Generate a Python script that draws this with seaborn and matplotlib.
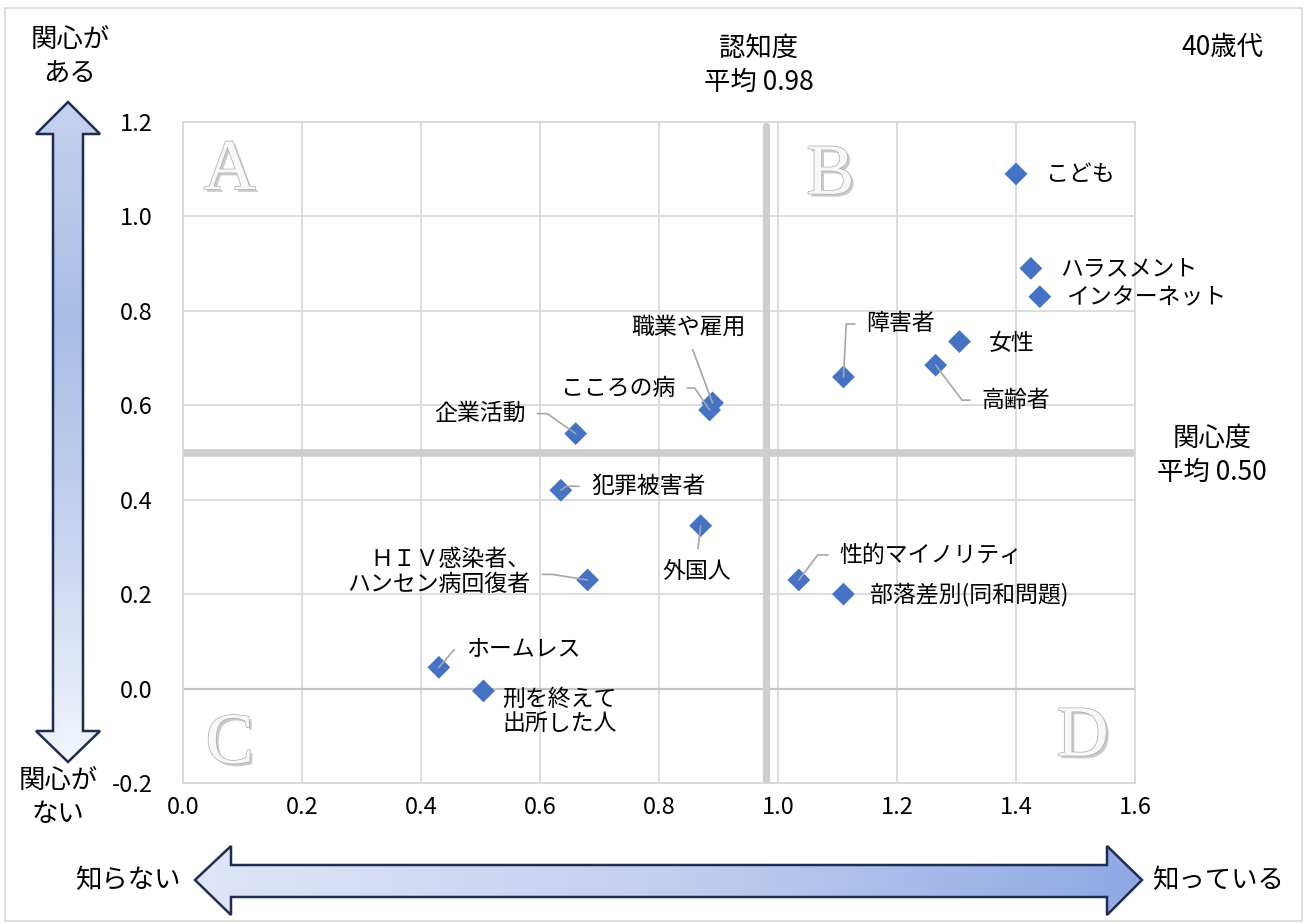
import numpy as np
import pandas as pd
import matplotlib
matplotlib.use("Agg")
import matplotlib.pyplot as plt
import matplotlib.patheffects as pe
from matplotlib.patches import Polygon, Rectangle
from matplotlib.colors import LinearSegmentedColormap
from matplotlib import font_manager
import seaborn as sns

# ---- data -------------------------------------------------------------
issues = [
    "こども", "ハラスメント", "インターネット", "女性", "高齢者", "障害者",
    "職業や雇用", "こころの病", "企業活動", "犯罪被害者", "外国人",
    "ＨＩＶ感染者、\nハンセン病回復者", "性的マイノリティ", "部落差別(同和問題)",
    "ホームレス", "刑を終えて\n出所した人",
]
awareness = [1.40, 1.425, 1.44, 1.305, 1.265, 1.11,
             0.89, 0.885, 0.66, 0.635, 0.87,
             0.68, 1.035, 1.11, 0.43, 0.505]
interest = [1.09, 0.89, 0.83, 0.735, 0.685, 0.66,
            0.605, 0.59, 0.54, 0.42, 0.345,
            0.23, 0.23, 0.20, 0.045, -0.005]
awareness_mean = 0.98
interest_mean = 0.50
x_ticks = [0.0, 0.2, 0.4, 0.6, 0.8, 1.0, 1.2, 1.4, 1.6]
y_ticks = [-0.2, 0.0, 0.2, 0.4, 0.6, 0.8, 1.0, 1.2]
quadrants = ["A", "B", "C", "D"]

df = pd.DataFrame({"課題": issues, "認知度": awareness, "関心度": interest})

# ---- style ------------------------------------------------------------
sns.set_theme(style="white")
plt.rcParams["font.family"] = ["Noto Sans CJK JP", "DejaVu Sans"]
plt.rcParams["text.color"] = "black"

# narrow monospaced digits for the numeric texts, if available
installed = {f.name for f in font_manager.fontManager.ttflist}
num_family = ["Noto Sans Mono CJK JP", "Noto Sans CJK JP"] if "Noto Sans Mono CJK JP" in installed \
    else ["Noto Sans CJK JP", "DejaVu Sans"]

W, H = 1307, 924
fig = plt.figure(figsize=(W / 100, H / 100), dpi=100)
fig.patch.set_facecolor("white")

# pixel-space layer for frame, arrows and side captions
bg = fig.add_axes([0, 0, 1, 1], zorder=0)
bg.axis("off")

ax = fig.add_axes([183 / W, 1 - 783 / H, 952 / W, 661 / H], zorder=1)

# ---- main scatter -----------------------------------------------------
ax.set_axisbelow(True)
ax.grid(True, color="#d9d9d9", lw=1.3)
ax.axhline(0, color="#c4c4c4", lw=1.6, zorder=0.8)
ax.axvline(awareness_mean, ymax=0.994, color="#d0cece", lw=5.2, zorder=1)
ax.axhline(interest_mean, color="#d0cece", lw=5.5, zorder=1)

sns.scatterplot(data=df, x="認知度", y="関心度", marker="D", s=135,
                color="#4472c4", edgecolor="none", legend=False, ax=ax, zorder=3)

ax.set_xlim(x_ticks[0], x_ticks[-1])
ax.set_ylim(y_ticks[0], y_ticks[-1])
ax.set_xticks(x_ticks)
ax.set_yticks(y_ticks)
ax.set_xticklabels([f"{v:.1f}" for v in x_ticks], family=num_family)
ax.set_yticklabels([f"{v:.1f}" for v in y_ticks], family=num_family)
ax.set_xlabel("")
ax.set_ylabel("")
ax.tick_params(axis="both", length=0, labelsize=17, colors="black")
ax.tick_params(axis="y", pad=22)
ax.tick_params(axis="x", pad=9)
for sp in ax.spines.values():
    sp.set_color("#d9d9d9")
    sp.set_linewidth(1.3)

# quadrant letters
letter_pos = [(0.049, 0.925), (0.680, 0.918), (0.049, 0.057), (0.945, 0.068)]
for q, (qx, qy) in zip(quadrants, letter_pos):
    ax.text(qx, qy, q, transform=ax.transAxes, ha="center", va="center",
            family="Liberation Serif", fontsize=52, color="#f8f8f8", zorder=2,
            path_effects=[pe.SimplePatchShadow(offset=(2, -2), shadow_rgbFace="#bdbdbd", alpha=0.8),
                          pe.Stroke(linewidth=1.1, foreground="#b0b0b0"), pe.Normal()])

# point labels: offset (pixels), alignment, leader line
label_style = {
    "こども": ((30, -1), "left", None),
    "ハラスメント": ((29, 0), "left", None),
    "インターネット": ((26, -1), "left", None),
    "女性": ((29, -2), "left", None),
    "高齢者": ((46, -35), "left", ((0, 0.5), "angle,angleA=0,angleB=-53,rad=0")),
    "障害者": ((23, 53), "left", ((0, 0.5), "angle,angleA=0,angleB=87,rad=0")),
    "職業や雇用": ((-24, 76), "center", ((0.5, 0), "arc3,rad=0")),
    "こころの病": ((-34, 22), "right", ((1, 0.5), "angle,angleA=0,angleB=124,rad=0")),
    "企業活動": ((-50, 20), "right", ((1, 0.5), "angle,angleA=0,angleB=145,rad=0")),
    "犯罪被害者": ((30, 4), "left", ((0, 0.5), "angle,angleA=0,angleB=35,rad=0")),
    "外国人": ((-4, -46), "center", ((0.5, 1), "arc3,rad=0")),
    "ＨＩＶ感染者、\nハンセン病回復者": ((-57, 8), "right", ((1, 0.45), "angle,angleA=0,angleB=171,rad=0")),
    "性的マイノリティ": ((41, 25), "left", ((0, 0.5), "angle,angleA=0,angleB=53,rad=0")),
    "部落差別(同和問題)": ((27, 0), "left", None),
    "ホームレス": ((27, 18), "left", ((0, 0.5), "angle,angleA=0,angleB=49,rad=0")),
    "刑を終えて\n出所した人": ((19, -21), "left", None),
}
for name, xv, yv in zip(issues, awareness, interest):
    (dx, dy), ha, leader = label_style[name]
    kw = {}
    if leader is not None:
        relpos, cstyle = leader
        kw["arrowprops"] = dict(arrowstyle="-", color="#a6a6a6", lw=1.2,
                                shrinkA=6, shrinkB=0, relpos=relpos,
                                connectionstyle=cstyle)
    ax.annotate(name, xy=(xv, yv), xytext=(dx, dy), textcoords="offset pixels",
                ha=ha, va="center", fontsize=16.5, color="black",
                multialignment=ha if ha != "center" else "center",
                linespacing=1.15, zorder=4, annotation_clip=False, **kw)

# ---- outer frame, arrows, captions -----------------------------------
bg.add_patch(Rectangle((5, 8), 1297, 913, fill=False, edgecolor="#d9d9d9", lw=1.2))


def gradient_arrow(verts, colors, horizontal):
    poly = Polygon(verts, closed=True, facecolor="none", edgecolor="#1f2d50",
                   lw=1.8, zorder=3, joinstyle="miter")
    bg.add_patch(poly)
    xs = [v[0] for v in verts]
    ys = [v[1] for v in verts]
    cmap = LinearSegmentedColormap.from_list("arrow_grad", colors)
    grad = np.linspace(0, 1, 256)
    grad = grad[None, :] if horizontal else grad[:, None]
    im = bg.imshow(grad, cmap=cmap, extent=(min(xs), max(xs), max(ys), min(ys)),
                   aspect="auto", zorder=2, interpolation="bilinear")
    im.set_clip_path(poly)


v_arrow = [(68, 102), (100, 134), (83, 134), (83, 731), (100, 731), (68, 762),
           (36, 731), (53, 731), (53, 134), (36, 134)]
gradient_arrow(v_arrow, ["#c6d3ef", "#a9bce5", "#c8d5f0", "#f3f6fc"], horizontal=False)

h_arrow = [(195, 880), (231, 846), (231, 865), (1107, 865), (1107, 846), (1142, 880),
           (1107, 915), (1107, 897), (231, 897), (231, 915)]
gradient_arrow(h_arrow, ["#e0e5f7", "#c3cff0", "#8fa8e4"], horizontal=True)

bg.set_xlim(0, W)
bg.set_ylim(H, 0)

cap = dict(ha="center", va="center", fontsize=19, color="black", linespacing=1.25)
bg.text(759, 48, "認知度", **cap)
bg.text(759, 82, "平均 0.98", **{**cap, "family": num_family})
bg.text(1222, 47, "40歳代", **{**cap, "family": num_family})
bg.text(1212, 438, "関心度", **cap)
bg.text(1212, 472, "平均 0.50", **{**cap, "family": num_family})
bg.text(70, 57, "関心が\nある", **cap)
bg.text(58, 798, "関心が\nない", **cap)
bg.text(128, 880, "知らない", **cap)
bg.text(1218, 880, "知っている", **cap)

fig.savefig("out.png", dpi=100, facecolor="white")
